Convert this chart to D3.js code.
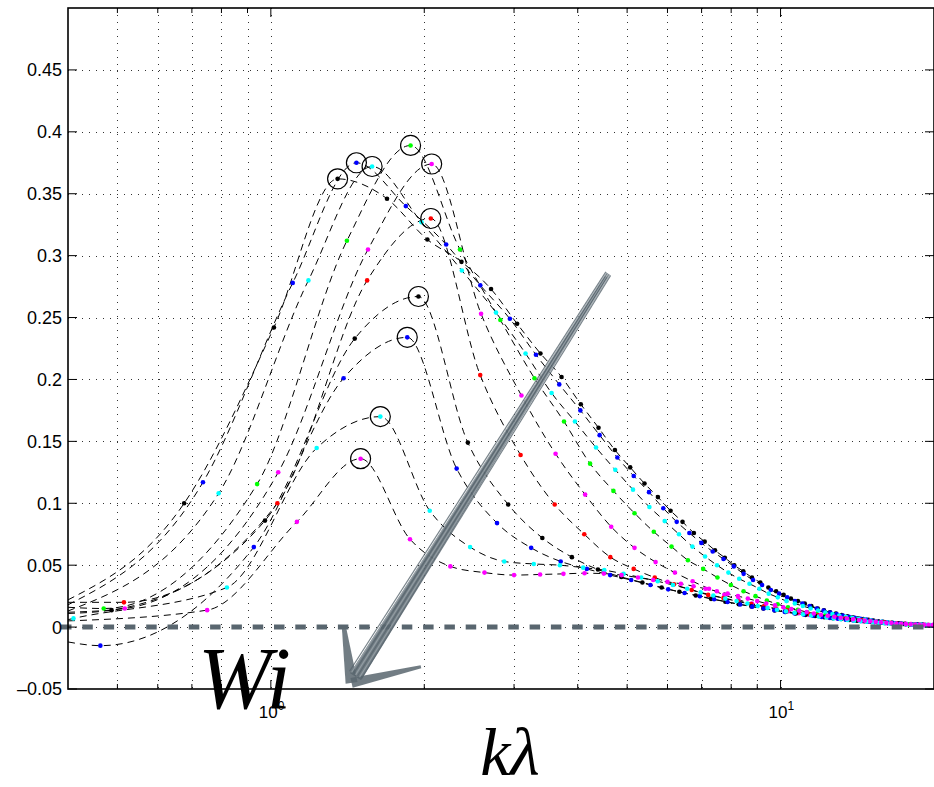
<!DOCTYPE html>
<html>
<head>
<meta charset="utf-8">
<script src="https://cdn.jsdelivr.net/npm/d3@7"></script>
<style>
  body { margin: 0; background: #fff; }
  svg { display: block; }
</style>
</head>
<body>
<div id="chart"></div>
<script>
// growth rate Wi against k*lambda, ten dashed curves with coloured sample dots

// sample spacing in k*lambda for each curve, and index of its first sample
let kStep  = [0.338, 0.368, 0.395, 0.47, 0.517, 0.515, 0.487, 0.463, 0.41, 0.375];
let nFirst = [2, 2, 2, 1, 1, 1, 1, 1, 1, 2];
// value of each fitted line at the left edge of the axis (k = 0.4)
let wiEdge = [0.022, 0.018, 0.013, 0.016, 0.012, 0.020, 0.011, -0.012, 0.006, 0.005];

let wi1 = [0.100,0.242,0.362,0.346,0.313,0.295,0.273,0.245,0.221,0.202,0.180,0.161,0.143,0.129,0.116,0.105,0.094,0.085,0.076,0.069,0.062,0.056,0.050,0.045,0.040,0.036,0.032,0.029,0.026,0.023,0.021,0.019,0.017,0.015,0.0135,0.012,0.011,0.0098,0.0088,0.008,0.0072,0.0065,0.0058,0.0052,0.0047,0.0042,0.0038,0.0034,0.0031,0.0028,0.0025,0.0023,0.0021,0.0019,0.0017,0.0016,0.0015,0.0014];
let wi2 = [0.117,0.278,0.375,0.340,0.309,0.276,0.249,0.220,0.196,0.175,0.155,0.137,0.122,0.109,0.096,0.085,0.076,0.068,0.061,0.055,0.049,0.043,0.038,0.034,0.030,0.027,0.024,0.021,0.019,0.017,0.015,0.0133,0.0118,0.0105,0.0094,0.0084,0.0075,0.0067,0.006,0.0053,0.0047,0.0042,0.0038,0.0034,0.003,0.0027,0.0024,0.0022,0.002,0.0018,0.0016,0.0015,0.0014];
let wi3 = [0.108,0.280,0.372,0.327,0.288,0.254,0.221,0.189,0.166,0.145,0.127,0.111,0.097,0.0856,0.075,0.065,0.057,0.050,0.044,0.039,0.035,0.031,0.027,0.024,0.021,0.019,0.017,0.015,0.0133,0.0118,0.0105,0.0094,0.0084,0.0075,0.0067,0.006,0.0053,0.0047,0.0042,0.0038,0.0034,0.003,0.0027,0.0024,0.0022,0.002,0.0018,0.0016,0.0015];
let wi4 = [0.015,0.1155,0.312,0.389,0.305,0.248,0.201,0.166,0.132,0.110,0.092,0.077,0.065,0.054,0.047,0.040,0.034,0.029,0.025,0.0215,0.0185,0.016,0.014,0.012,0.0105,0.0092,0.008,0.007,0.0062,0.0055,0.0049,0.0043,0.0038,0.0034,0.003,0.0027,0.0024,0.0022,0.002,0.0018,0.0016,0.0015];
let wi5 = [0.015,0.125,0.305,0.374,0.253,0.187,0.140,0.107,0.081,0.064,0.0525,0.044,0.037,0.031,0.026,0.022,0.019,0.0165,0.0145,0.0127,0.0112,0.0099,0.0088,0.0078,0.0069,0.0061,0.0054,0.0048,0.0043,0.0038,0.0034,0.003,0.0027,0.0024,0.0021,0.0019,0.0017,0.0015];
let wi6 = [0.020,0.100,0.280,0.330,0.2035,0.139,0.099,0.075,0.0565,0.047,0.040,0.0345,0.030,0.026,0.0235,0.021,0.0186,0.0168,0.015,0.0135,0.012,0.0107,0.0095,0.0085,0.0076,0.0068,0.006,0.0054,0.0048,0.0043,0.0038,0.0034,0.003,0.0027,0.0024,0.0021,0.0019,0.0017];
let wi7 = [0.0137,0.086,0.233,0.267,0.149,0.099,0.072,0.0565,0.0465,0.0405,0.036,0.032,0.0285,0.0255,0.0228,0.0205,0.0185,0.0167,0.015,0.0135,0.0122,0.011,0.0099,0.0089,0.008,0.0072,0.0065,0.0058,0.0052,0.0047,0.0042,0.0038,0.0034,0.0031,0.0028,0.0025,0.0023,0.0021,0.0019,0.0017,0.0016];
let wi8 = [-0.015,0.0646,0.201,0.234,0.128,0.084,0.064,0.053,0.047,0.042,0.038,0.034,0.0305,0.0275,0.025,0.0225,0.0203,0.0183,0.0165,0.015,0.0136,0.0123,0.0111,0.0101,0.0091,0.0082,0.0074,0.0067,0.006,0.0054,0.0049,0.0044,0.004,0.0036,0.0032,0.0029,0.0026,0.0024,0.0022,0.002,0.0018,0.0017,0.0016];
let wi9 = [0.007,0.032,0.1446,0.170,0.094,0.0646,0.053,0.051,0.050,0.048,0.046,0.043,0.040,0.037,0.034,0.031,0.028,0.0255,0.023,0.021,0.019,0.017,0.0155,0.014,0.0127,0.0115,0.0104,0.0094,0.0085,0.0077,0.007,0.0063,0.0057,0.0052,0.0047,0.0043,0.0039,0.0035,0.0032,0.0029,0.0027,0.0025,0.0023,0.0021,0.0019,0.0018,0.0017,0.0016];
let wi10 = [0.0137,0.085,0.136,0.071,0.049,0.044,0.042,0.0425,0.043,0.0435,0.0432,0.042,0.040,0.038,0.0365,0.035,0.033,0.031,0.029,0.027,0.025,0.023,0.021,0.019,0.0175,0.016,0.0146,0.0133,0.0121,0.011,0.01,0.0091,0.0083,0.0076,0.0069,0.0063,0.0057,0.0052,0.0047,0.0043,0.0039,0.0035,0.0032,0.0029,0.0027,0.0025,0.0023,0.0021,0.0019,0.0018,0.0017,0.0016];

let wiSeries = [wi1, wi2, wi3, wi4, wi5, wi6, wi7, wi8, wi9, wi10];
let dotColors = ["#000000","#0000ff","#00ffff","#00ff00","#ff00ff","#ff0000","#000000","#0000ff","#00ffff","#ff00ff"];

let yTicks = [-0.05, 0, 0.05, 0.1, 0.15, 0.2, 0.25, 0.3, 0.35, 0.4, 0.45];
let xMajor = [1, 10];
let xMinor = [0.5,0.6,0.7,0.8,0.9,2,3,4,5,6,7,8,9];

let svgWidth = 934;
let svgHeight = 787;
let pLeft = 68, pRight = 934, pTop = 8, pBottom = 689;
let gray = "#59666f";

let xScale = d3.scaleLog().domain([0.4, 20]).range([pLeft, pRight]);
let yScale = d3.scaleLinear().domain([-0.05, 0.5]).range([pBottom, pTop]);

let svg = d3.select("#chart")
  .append("svg")
  .attr("width", svgWidth)
  .attr("height", svgHeight)
  .style("font-family", "'Liberation Sans', Arial, sans-serif");

svg.append("defs").append("clipPath").attr("id", "plotClip")
  .append("rect")
  .attr("x", pLeft).attr("y", pTop)
  .attr("width", pRight - pLeft).attr("height", pBottom - pTop);

// dotted grid
let grid = svg.append("g")
  .attr("stroke", "#333")
  .attr("stroke-width", 1)
  .attr("stroke-dasharray", "1,6");

grid.selectAll(".vg")
  .data(xMajor.concat(xMinor))
  .enter().append("line")
  .attr("x1", d => Math.round(xScale(d)) + 0.5)
  .attr("x2", d => Math.round(xScale(d)) + 0.5)
  .attr("y1", pTop).attr("y2", pBottom);

grid.selectAll(".hg")
  .data(yTicks.filter(d => d !== -0.05))
  .enter().append("line")
  .attr("x1", pLeft).attr("x2", pRight)
  .attr("y1", d => Math.round(yScale(d)) + 0.5)
  .attr("y2", d => Math.round(yScale(d)) + 0.5);

// build the sampled points of every curve
let curves = wiSeries.map(function(vals, i) {
  let pts = vals.map((v, j) => ({ k: (nFirst[i] + j) * kStep[i], wi: v }));
  return { pts: pts, color: dotColors[i], edge: wiEdge[i] };
});

let line = d3.line()
  .x(d => xScale(d.k))
  .y(d => yScale(d.wi))
  .curve(d3.curveMonotoneX);

let plot = svg.append("g").attr("clip-path", "url(#plotClip)");

plot.selectAll(".fit")
  .data(curves)
  .enter().append("path")
  .attr("d", c => line([{ k: 0.4, wi: c.edge }].concat(c.pts.filter(p => p.k > 0.4))))
  .attr("fill", "none")
  .attr("stroke", "#000")
  .attr("stroke-width", 1)
  .attr("stroke-dasharray", "7,5");

// zero reference line
svg.append("line")
  .attr("x1", 61).attr("x2", pRight)
  .attr("y1", yScale(0)).attr("y2", yScale(0))
  .attr("stroke", gray)
  .attr("stroke-width", 5)
  .attr("stroke-dasharray", "10.5,10.8");

// sample dots
curves.forEach(function(c) {
  plot.append("g").selectAll("circle")
    .data(c.pts.filter(p => p.k >= 0.4 && p.k <= 20))
    .enter().append("circle")
    .attr("cx", d => xScale(d.k))
    .attr("cy", d => yScale(d.wi))
    .attr("r", 2.3)
    .attr("fill", c.color);
});

// open circles on each maximum
plot.selectAll(".peak")
  .data(curves.map(c => c.pts[d3.maxIndex(c.pts, p => p.wi)]))
  .enter().append("circle")
  .attr("cx", d => xScale(d.k))
  .attr("cy", d => yScale(d.wi))
  .attr("r", 10)
  .attr("fill", "none")
  .attr("stroke", "#000")
  .attr("stroke-width", 1.2);

// axes box and ticks (inward, matlab style)
svg.append("rect")
  .attr("x", pLeft).attr("y", pTop)
  .attr("width", pRight - pLeft).attr("height", pBottom - pTop)
  .attr("fill", "none")
  .attr("stroke", "#000")
  .attr("stroke-width", 1.6);

let ticks = svg.append("g").attr("stroke", "#000").attr("stroke-width", 1);
yTicks.forEach(function(t) {
  let y = yScale(t);
  ticks.append("line").attr("x1", pLeft).attr("x2", pLeft + 9).attr("y1", y).attr("y2", y);
  ticks.append("line").attr("x1", pRight - 9).attr("x2", pRight).attr("y1", y).attr("y2", y);
});
xMajor.forEach(function(t) {
  let x = xScale(t);
  ticks.append("line").attr("x1", x).attr("x2", x).attr("y1", pBottom).attr("y2", pBottom - 9);
  ticks.append("line").attr("x1", x).attr("x2", x).attr("y1", pTop).attr("y2", pTop + 9);
});
xMinor.forEach(function(t) {
  let x = xScale(t);
  ticks.append("line").attr("x1", x).attr("x2", x).attr("y1", pBottom).attr("y2", pBottom - 5);
  ticks.append("line").attr("x1", x).attr("x2", x).attr("y1", pTop).attr("y2", pTop + 5);
});

// tick labels
svg.append("g").selectAll("text")
  .data(yTicks)
  .enter().append("text")
  .attr("x", pLeft - 6)
  .attr("y", d => yScale(d))
  .attr("dy", "0.36em")
  .attr("text-anchor", "end")
  .attr("font-size", 18)
  .text(d => d === 0 ? "0" : (d < 0 ? "\u2013" : "") + String(Math.abs(d)));

let xl = svg.append("g").selectAll("text")
  .data(xMajor)
  .enter().append("text")
  .attr("x", d => xScale(d) - 12)
  .attr("y", 718)
  .attr("font-size", 17);
xl.append("tspan").text("10");
xl.append("tspan").attr("dy", -8).attr("font-size", 12).text(d => String(Math.round(Math.log10(d))));

// axis title
svg.append("text")
  .attr("x", 510).attr("y", 775)
  .attr("text-anchor", "middle")
  .attr("font-family", "'Liberation Serif', 'Times New Roman', serif")
  .attr("font-style", "italic")
  .attr("font-size", 68)
  .text("k\u03bb");

// hand drawn arrow: Wi decreasing
function taper(x1, y1, x2, y2, w1, w2) {
  let dx = x2 - x1, dy = y2 - y1, len = Math.hypot(dx, dy);
  let nx = -dy / len, ny = dx / len;
  return "M" + (x1 + nx * w1 / 2) + "," + (y1 + ny * w1 / 2) +
    "L" + (x2 + nx * w2 / 2) + "," + (y2 + ny * w2 / 2) +
    "L" + (x2 - nx * w2 / 2) + "," + (y2 - ny * w2 / 2) +
    "L" + (x1 - nx * w1 / 2) + "," + (y1 - ny * w1 / 2) + "Z";
}

let arrow = svg.append("g");
let tail = [xScale(4.55), yScale(0.283)];
let tip = [xScale(1.44), yScale(-0.045)];
let barbA = [xScale(1.39), yScale(0.001)];
let barbB = [xScale(1.97), yScale(-0.032)];

arrow.append("path")
  .attr("d", taper(tail[0], tail[1], tip[0] + 4, tip[1] - 6, 3, 13))
  .attr("fill", gray).attr("opacity", 0.85);
arrow.append("path")
  .attr("d", taper(tip[0], tip[1], barbA[0], barbA[1], 12, 4))
  .attr("fill", gray).attr("opacity", 0.85);
arrow.append("path")
  .attr("d", taper(tip[0], tip[1], barbB[0], barbB[1], 10, 3))
  .attr("fill", gray).attr("opacity", 0.85);

// scratchy strokes along the shaft
[-6, -4, -2, 0, 2, 4, 6].forEach(function(o, i) {
  arrow.append("line")
    .attr("x1", tail[0] + o * 0.4 + 2).attr("y1", tail[1] - 3 + o * 0.3)
    .attr("x2", tip[0] + 4 + o).attr("y2", tip[1] - 8 + o * 0.6)
    .attr("stroke", i % 2 ? "#9aa4aa" : gray)
    .attr("stroke-width", 1.2)
    .attr("opacity", 0.8);
});

svg.append("text")
  .attr("x", 198).attr("y", 708)
  .attr("font-family", "'Liberation Serif', 'Times New Roman', serif")
  .attr("font-style", "italic")
  .attr("font-size", 88)
  .text("Wi");
</script>
</body>
</html>
